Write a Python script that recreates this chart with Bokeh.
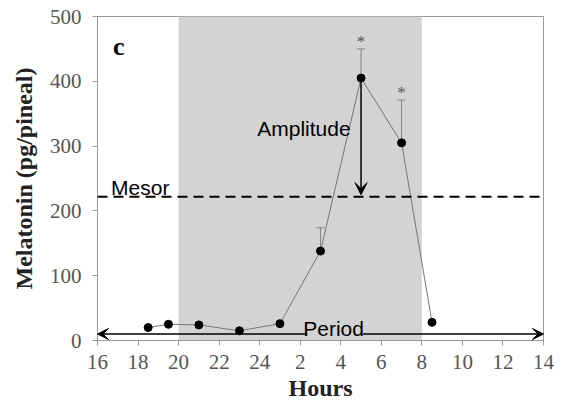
from bokeh.plotting import figure
from bokeh.models import (BoxAnnotation, Whisker, TeeHead, Arrow, VeeHead,
                          ColumnDataSource, FixedTicker, Span)
from bokeh.embed import file_html
from bokeh.resources import INLINE
from bokeh.core.properties import value

# ---- data (hours on a continuous clock: 24 -> 24, 2 -> 26, ...) ----
hours = [18.5, 19.5, 21, 23, 25, 27, 29, 31, 32.5]
melatonin = [20, 25, 24, 15, 26, 138, 405, 305, 28]
err_hours = [27, 29, 31]
err_low = [138, 405, 305]
err_high = [174, 450, 371]
sig_hours = [29, 31]
sig_labels = ["*", "*"]
tick_positions = [16, 18, 20, 22, 24, 26, 28, 30, 32, 34, 36, 38]
tick_labels = ["16", "18", "20", "22", "24", "2", "4", "6", "8", "10", "12", "14"]
y_ticks = [0, 100, 200, 300, 400, 500]
dark_start, dark_end = 20, 32
mesor = 222
amplitude_peak = 405
period_level = 10
period_text_gap = (26.35, 29.1)

serif = "Liberation Serif"
sans = "Liberation Sans"

p = figure(width=554, height=403, x_range=(16, 38), y_range=(0, 500),
           output_backend="svg", toolbar_location=None,
           min_border_left=97, min_border_right=11, min_border_top=16)
p.grid.visible = False
p.background_fill_color = "white"
p.outline_line_color = "#9a9a9a"
p.outline_line_width = 1

# dark phase shading
p.add_layout(BoxAnnotation(left=dark_start, right=dark_end, fill_color="#d3d3d3",
                           fill_alpha=1.0, line_color=None, level="underlay"))

# mesor
p.add_layout(Span(location=mesor, dimension="width", line_color="black",
                  line_width=2, line_dash="10 6"))

# error bars (upper only)
esrc = ColumnDataSource(dict(x=err_hours, lo=err_low, hi=err_high))
p.add_layout(Whisker(source=esrc, base="x", lower="lo", upper="hi",
                     line_color="#888888", line_width=1,
                     lower_head=None,
                     upper_head=TeeHead(size=8, line_color="#888888", line_width=1)))

# data line & points
p.line(hours, melatonin, line_color="#777777", line_width=1)
p.scatter(hours, melatonin, size=8, fill_color="black", line_color="black")

# significance asterisks
p.text(sig_hours, [hi + 12 for hi in err_high[1:]],
       text=sig_labels, text_align="center", text_baseline="alphabetic",
       text_font=value(serif), text_font_size="17px", text_color="#555555")

# amplitude arrow
p.add_layout(Arrow(x_start=err_hours[1], y_start=amplitude_peak,
                   x_end=err_hours[1], y_end=mesor + 3,
                   line_color="black", line_width=1.5,
                   end=VeeHead(size=12, fill_color="black", line_color="black")))

# period arrows
p.add_layout(Arrow(x_start=period_text_gap[0], y_start=period_level,
                   x_end=16, y_end=period_level, line_color="black", line_width=1.5,
                   end=VeeHead(size=11, fill_color="black", line_color="black")))
p.add_layout(Arrow(x_start=period_text_gap[1], y_start=period_level,
                   x_end=38, y_end=period_level, line_color="black", line_width=1.5,
                   end=VeeHead(size=11, fill_color="black", line_color="black")))

# annotation texts
p.text([16.67, 23.88, 26.15], [236, 327, 18], text=["Mesor", "Amplitude", "Period"],
       text_align="left", text_baseline="alphabetic",
       text_font=value(sans), text_font_size="21px", text_color="black")
p.text([16.77], [454], text=["c"], text_align="left", text_baseline="alphabetic",
       text_font=value(serif), text_font_style="bold", text_font_size="26px",
       text_color="black")

# axes
p.xaxis.ticker = FixedTicker(ticks=tick_positions)
p.xaxis.major_label_overrides = {t: l for t, l in zip(tick_positions, tick_labels)}
p.yaxis.ticker = FixedTicker(ticks=y_ticks)
for ax in (p.xaxis[0], p.yaxis[0]):
    ax.axis_line_color = "#9a9a9a"
    ax.major_tick_line_color = "#9a9a9a"
    ax.minor_tick_line_color = None
    ax.major_tick_in = 0
    ax.major_tick_out = 5
    ax.major_label_text_font = "Times New Roman"
    ax.major_label_text_font_style = "normal"
    ax.major_label_text_font_size = "21px"
    ax.major_label_text_color = "#555555"
    ax.axis_label_text_font = serif
    ax.axis_label_text_font_style = "bold"
    ax.axis_label_text_color = "#222222"
p.xaxis.axis_label = "Hours"
p.xaxis.axis_label_text_font_size = "24px"
p.xaxis.major_label_standoff = 9
p.xaxis.axis_label_standoff = 3
p.yaxis.axis_label = "Melatonin (pg/pineal)"
p.yaxis.axis_label_text_font_size = "24px"
p.yaxis.major_label_standoff = 11
p.yaxis.axis_label_standoff = 10

open("out.html", "w").write(file_html(p, INLINE))
